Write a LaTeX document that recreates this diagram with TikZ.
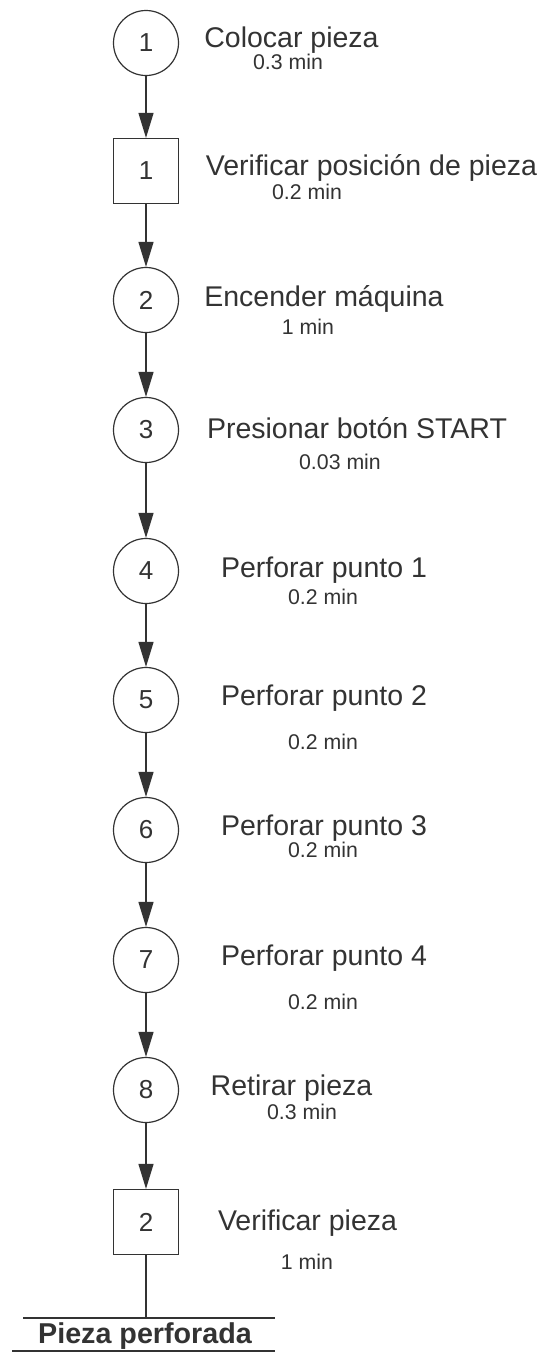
\documentclass[tikz,border=0pt]{standalone}
\usepackage{fontspec}
\setmainfont{Liberation Sans}
\usetikzlibrary{arrows.meta}
\definecolor{ink}{HTML}{333333}
\begin{document}
\begin{tikzpicture}[x=1pt,y=-1pt,
  op/.style={circle, draw=ink, line width=1.2pt, minimum size=65pt, inner sep=0pt, font=\fontsize{26}{29}\selectfont, text=ink},
  insp/.style={rectangle, draw=ink, line width=1.2pt, minimum size=65pt, inner sep=0pt, font=\fontsize{26}{29}\selectfont, text=ink},
  lbl/.style={font=\fontsize{28.5}{32}\selectfont, text=ink, inner sep=0pt},
  tm/.style={font=\fontsize{21.3}{24}\selectfont, text=ink, inner sep=0pt},
  flow/.style={draw=ink, line width=1.2pt, -{Triangle[width=15pt,length=25pt]}},
  plain/.style={draw=ink, line width=1.2pt}
]
\useasboundingbox (0,0) rectangle (547,1355);
\fill[white] (0,0) rectangle (547,1355);

% shapes
\node[op]   (c1) at (146,43)   {1};
\node[insp] (s1) at (146,171)  {1};
\node[op]   (c2) at (146,300)  {2};
\node[op]   (c3) at (146,430)  {3};
\node[op]   (c4) at (146,571)  {4};
\node[op]   (c5) at (146,700)  {5};
\node[op]   (c6) at (146,830)  {6};
\node[op]   (c7) at (146,960)  {7};
\node[op]   (c8) at (146,1090) {8};
\node[insp] (s2) at (146,1222) {2};

% labels
\node[lbl] (l1) at (291.5,40) {Colocar pieza};
\node[tm]  (t1) at (288,62) {0.3 min};
\node[lbl] (l2) at (371.5,168) {Verificar posición de pieza};
\node[tm]  (t2) at (307,192) {0.2 min};
\node[lbl] (l3) at (324,299) {Encender máquina};
\node[tm]  (t3) at (308,327) {1 min};
\node[lbl] (l4) at (357,428) {Presionar botón START};
\node[tm]  (t4) at (340,462) {0.03 min};
\node[lbl] (l5) at (324,570) {Perforar punto 1};
\node[tm]  (t5) at (323,597) {0.2 min};
\node[lbl] (l6) at (324,698) {Perforar punto 2};
\node[tm]  (t6) at (323,742) {0.2 min};
\node[lbl] (l7) at (324,828) {Perforar punto 3};
\node[tm]  (t7) at (323,850) {0.2 min};
\node[lbl] (l8) at (324,958) {Perforar punto 4};
\node[tm]  (t8) at (323,1002) {0.2 min};
\node[lbl] (l9) at (291.5,1088) {Retirar pieza};
\node[tm]  (t9) at (302,1112) {0.3 min};
\node[lbl] (l10) at (307.5,1223) {Verificar pieza};
\node[tm]  (t10) at (307,1262) {1 min};

% connectors
\draw[flow] (c1) -- (s1);
\draw[flow] (s1) -- (c2);
\draw[flow] (c2) -- (c3);
\draw[flow] (c3) -- (c4);
\draw[flow] (c4) -- (c5);
\draw[flow] (c5) -- (c6);
\draw[flow] (c6) -- (c7);
\draw[flow] (c7) -- (c8);
\draw[flow] (c8) -- (s2);

% end
\coordinate (e) at (146,1318);
\coordinate (eL) at (23,1318);
\coordinate (eR) at (275,1318);
\draw[plain] (s2) -- (e);
\draw[plain] (eL) -- (eR);
\node[lbl, font=\fontsize{28.7}{32}\selectfont\bfseries] (res) at (145,1336) {Pieza perforada};
\coordinate (uL) at (12,1351);
\coordinate (uR) at (275,1351);
\draw[plain] (uL) -- (uR);
\end{tikzpicture}
\end{document}
